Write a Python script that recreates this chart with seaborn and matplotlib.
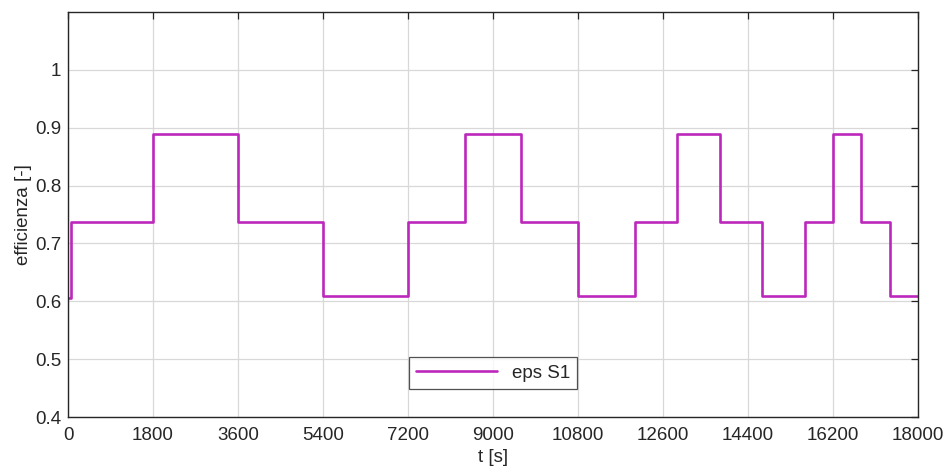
import matplotlib
matplotlib.use("Agg")
import matplotlib.pyplot as plt
import seaborn as sns
import numpy as np
import pandas as pd

# data
t_s = [0, 60, 1800, 3600, 5400, 7200, 8400, 9600, 10800, 12000, 12900,
       13800, 14700, 15600, 16200, 16800, 17400, 18000]
eps_s1 = [0.605, 0.737, 0.89, 0.737, 0.61, 0.737, 0.89, 0.737, 0.61, 0.737,
          0.89, 0.737, 0.61, 0.737, 0.89, 0.737, 0.61, 0.61]
x_ticks = [0, 1800, 3600, 5400, 7200, 9000, 10800, 12600, 14400, 16200, 18000]
y_ticks = [0.4, 0.5, 0.6, 0.7, 0.8, 0.9, 1.0]
y_tick_labels = ["0.4", "0.5", "0.6", "0.7", "0.8", "0.9", "1"]

sns.set_theme(style="white")
plt.rcParams['font.family'] = ['Liberation Sans', 'DejaVu Sans']

fig = plt.figure(figsize=(9.49, 4.74), dpi=100)
ax = fig.add_axes([68/949, 57/474, 850/949, 405/474])

df = pd.DataFrame({"t": t_s, "eps": eps_s1})
sns.lineplot(data=df, x="t", y="eps", ax=ax, color="#BB28BB", linewidth=1.9,
             drawstyle="steps-post", estimator=None, sort=False, label="eps S1")

ax.set_xlim(0, 18000)
ax.set_ylim(0.4, 1.1)
ax.set_xticks(x_ticks)
ax.set_xticklabels([str(v) for v in x_ticks])
ax.set_yticks(y_ticks)
ax.set_yticklabels(y_tick_labels)
ax.grid(True, color="#D8D8D8", linewidth=0.9)
ax.set_axisbelow(True)
for s in ax.spines.values():
    s.set_visible(True)
    s.set_color("#262626")
    s.set_linewidth(1.0)
ax.tick_params(axis="both", direction="in", length=5, width=0.9, colors="#262626",
               labelsize=13.5, top=True, right=True, labeltop=False, labelright=False)
ax.tick_params(axis="x", pad=7)
ax.tick_params(axis="y", pad=5)
ax.tick_params(axis="both", labelcolor="#262626")
ax.set_xlabel("t [s]", fontsize=13.5, color="#262626", labelpad=4)
ax.set_ylabel("efficienza [-]", fontsize=13.5, color="#262626", labelpad=2)

leg = ax.legend(loc="lower center", bbox_to_anchor=(0.5, 0.045), fontsize=13.5,
                frameon=True, fancybox=False, edgecolor="#262626",
                handlelength=4.3, borderpad=0.4)
leg.get_frame().set_linewidth(0.9)

fig.savefig("out.png", dpi=100, facecolor="white")
